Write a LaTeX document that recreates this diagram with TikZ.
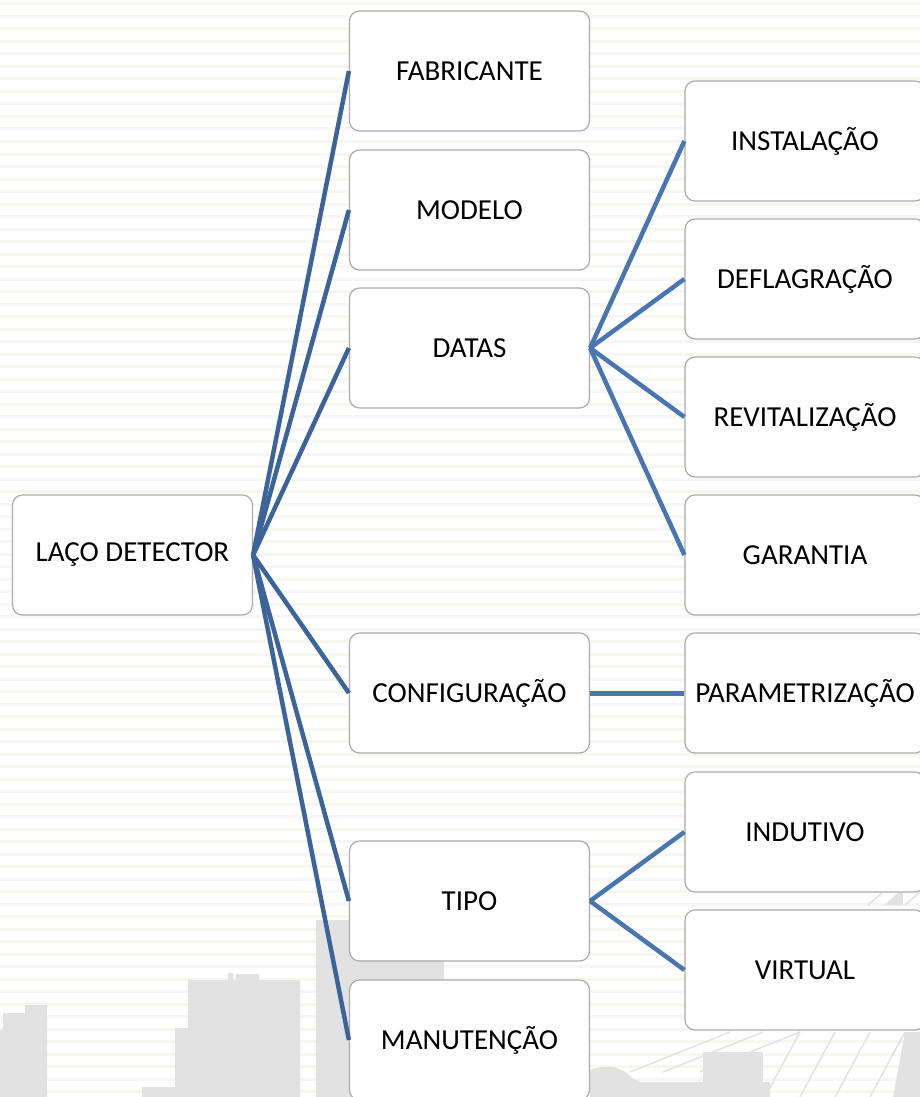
\documentclass[tikz,border=0pt]{standalone}
\usepackage{fontspec}
\setmainfont{Carlito}
\usepackage{tikz}
\usetikzlibrary{positioning}

\definecolor{linkdark}{RGB}{60,100,152}
\definecolor{linkblue}{RGB}{74,118,176}
\definecolor{stripe}{RGB}{246,246,243}
\definecolor{city}{RGB}{226,226,226}

\begin{document}
\begin{tikzpicture}[
    x=1pt, y=-1pt,
    item/.style={rectangle, rounded corners=10pt, draw=gray!65, line width=1.2pt, fill=white, minimum width=240pt, minimum height=120pt, align=center, font=\fontsize{29}{34}\selectfont},
    link/.style={draw=linkdark, line width=4.5pt},
    sublink/.style={draw=linkblue, line width=4.5pt}
]
\useasboundingbox (0,0) rectangle (920,1097);
\fill[white] (0,0) rectangle (920,1097);

% background stripes and skyline
\foreach \y in {4,16.5,...,1097}
  \draw[stripe, line width=3pt] (0,\y) -- (920,\y);
\fill[city] (0,1097) -- (0,1030) -- (3,1030) -- (3,1013) -- (25,1013) -- (25,1005) -- (47,1005) -- (47,1097) -- cycle;
\fill[city] (142,1097) -- (142,1087) -- (175,1087) -- (175,1028) -- (188,1028) -- (188,980) -- (228,980) -- (228,973) -- (233,973) -- (233,980) -- (236,980) -- (236,974) -- (259,974) -- (259,980) -- (300,980) -- (300,1097) -- cycle;
\fill[city] (316,920) rectangle (444,1097);
\fill[city] (590,1097) -- (590,1070) .. controls (605,1064) and (622,1066) .. (632,1078) -- (640,1082) -- (770,1082) -- (770,1097) -- cycle;
\fill[city] (703,1052) rectangle (763,1097);
\fill[city] (893,1097) -- (905,1032) -- (920,1032) -- (920,1097) -- cycle;
\foreach \x in {630,663,700}
  \draw[city, line width=1.5pt] (\x,1072) -- (\x+100,1032);
\foreach \x in {765,800,835,870}
  \draw[city, line width=1.5pt] (\x,1097) -- (\x+35,1032);
\draw[city, line width=1.5pt] (868,905) -- (882,893);
\fill[city] (884,905) -- (898,893) -- (903,893) -- (903,905) -- cycle;
\draw[city, line width=1.5pt] (905,905) -- (919,893);

% root
\node[item] (laco) at (132.5,555) {LAÇO DETECTOR};

% middle column
\node[item] (fab) at (469.5,71) {FABRICANTE};
\node[item] (mod) at (469.5,210) {MODELO};
\node[item] (datas) at (469.5,348) {DATAS};
\node[item] (conf) at (469.5,693) {CONFIGURAÇÃO};
\node[item] (tipo) at (469.5,901) {TIPO};
\node[item] (manut) at (469.5,1040) {MANUTENÇÃO};

% right column
\node[item] (inst) at (805,141) {INSTALAÇÃO};
\node[item] (defl) at (805,279) {DEFLAGRAÇÃO};
\node[item] (revit) at (805,417) {REVITALIZAÇÃO};
\node[item] (gar) at (805,555) {GARANTIA};
\node[item] (param) at (805,693) {PARAMETRIZAÇÃO};
\node[item] (indut) at (805,832) {INDUTIVO};
\node[item] (virt) at (805,970) {VIRTUAL};

\draw[link] (laco.east) -- (fab.west);
\draw[link] (laco.east) -- (mod.west);
\draw[link] (laco.east) -- (datas.west);
\draw[link] (laco.east) -- (conf.west);
\draw[link] (laco.east) -- (tipo.west);
\draw[link] (laco.east) -- (manut.west);

\draw[sublink] (datas.east) -- (inst.west);
\draw[sublink] (datas.east) -- (defl.west);
\draw[sublink] (datas.east) -- (revit.west);
\draw[sublink] (datas.east) -- (gar.west);
\draw[sublink, line width=5pt] (conf.east) -- (param.west);
\draw[sublink] (tipo.east) -- (indut.west);
\draw[sublink] (tipo.east) -- (virt.west);
\end{tikzpicture}
\end{document}
